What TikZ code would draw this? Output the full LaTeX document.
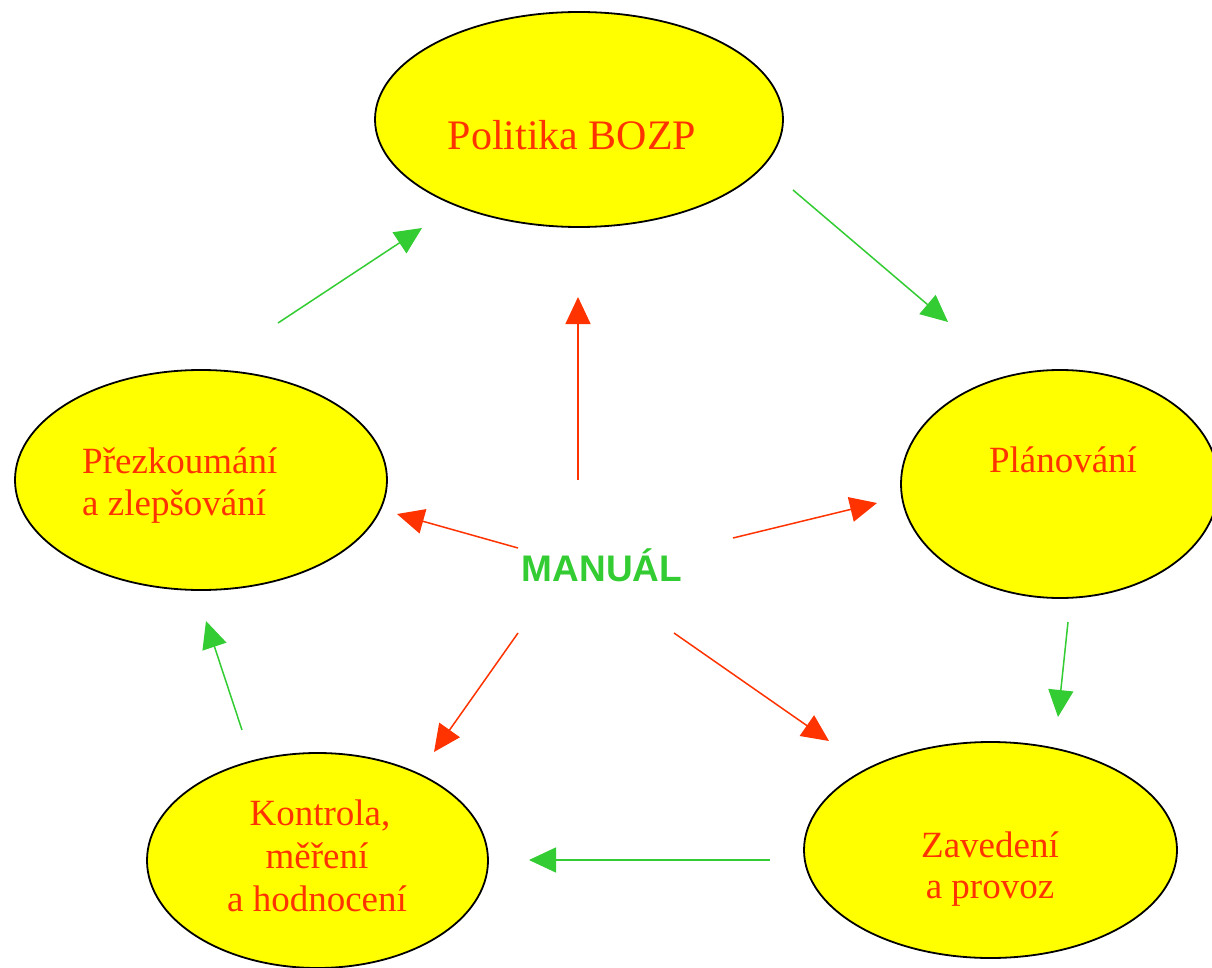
\documentclass[tikz,border=0pt]{standalone}
\usepackage{fontspec}
\setmainfont{Liberation Serif}
\newfontfamily\manfont{Liberation Sans}
\usetikzlibrary{shapes.geometric,arrows.meta}
\definecolor{bozpyellow}{HTML}{FFFF00}
\definecolor{bozpred}{HTML}{FF3300}
\definecolor{bozpgreen}{HTML}{33CC33}
\begin{document}
\begin{tikzpicture}[x=1pt,y=-1pt,
  oval/.style={ellipse, draw=black, line width=1.8pt, fill=bozpyellow, inner sep=0pt},
  lbl/.style={text=bozpred, font=\fontsize{37}{42.5}\selectfont, inner sep=0pt},
  tip/.style={-{Triangle[length=27pt,width=25pt]}},
  garrow/.style={draw=bozpgreen, line width=1.5pt, tip},
  rarrow/.style={draw=bozpred, line width=1.5pt, tip}]
\clip (0,0) rectangle (1212,968);
\fill[white] (0,0) rectangle (1212,968);
% ellipses
\node[oval, minimum width=408pt, minimum height=215pt] (pol) at (579,119.5) {};
\node[oval, minimum width=318pt, minimum height=228pt] (pla) at (1060,484) {};
\node[oval, minimum width=372pt, minimum height=220pt] (pre) at (201,480) {};
\node[oval, minimum width=341pt, minimum height=215pt] (kon) at (317.5,860.5) {};
\node[oval, minimum width=373pt, minimum height=216pt] (zav) at (990.5,850) {};
% labels
\node[lbl, font=\fontsize{42}{48}\selectfont, anchor=base] (tpol) at (572,150) {Politika BOZP};
\node[lbl, anchor=base] (tpla) at (1063,472) {Plánování};
\node[lbl, anchor=base west] (tpre1) at (82,473) {Přezkoumání};
\node[lbl, anchor=base west] (tpre2) at (82,515) {a zlepšování};
\node[lbl, anchor=base] (tkon1) at (320,825) {Kontrola,};
\node[lbl, anchor=base] (tkon2) at (317,868) {měření};
\node[lbl, anchor=base] (tkon3) at (317,911) {a hodnocení};
\node[lbl, anchor=base] (tzav1) at (990,857) {Zavedení};
\node[lbl, anchor=base] (tzav2) at (990,898) {a provoz};
\node[text=bozpgreen, font=\manfont\bfseries\fontsize{37}{42}\selectfont, inner sep=0pt, anchor=base] (man) at (602,581) {MANUÁL};
% connector ends
\coordinate (g1a) at (793,190);  \coordinate (g1b) at (948,322);
\coordinate (g2a) at (1068,622); \coordinate (g2b) at (1058,717);
\coordinate (g3a) at (770,860);  \coordinate (g3b) at (529,860);
\coordinate (g4a) at (242,730);  \coordinate (g4b) at (206,621);
\coordinate (g5a) at (278,323);  \coordinate (g5b) at (422,228);
\coordinate (r1a) at (578,480);  \coordinate (r1b) at (578,297);
\coordinate (r2a) at (733,538);  \coordinate (r2b) at (877,503);
\coordinate (r3a) at (518,548);  \coordinate (r3b) at (397,514);
\coordinate (r4a) at (518,633);  \coordinate (r4b) at (434,752);
\coordinate (r5a) at (674,633);  \coordinate (r5b) at (829,741);
% green cycle
\draw[garrow] (g1a) -- (g1b);
\draw[garrow] (g2a) -- (g2b);
\draw[garrow] (g3a) -- (g3b);
\draw[garrow] (g4a) -- (g4b);
\draw[garrow] (g5a) -- (g5b);
% red from manual
\draw[rarrow] (r1a) -- (r1b);
\draw[rarrow] (r2a) -- (r2b);
\draw[rarrow] (r3a) -- (r3b);
\draw[rarrow] (r4a) -- (r4b);
\draw[rarrow] (r5a) -- (r5b);
\end{tikzpicture}
\end{document}
